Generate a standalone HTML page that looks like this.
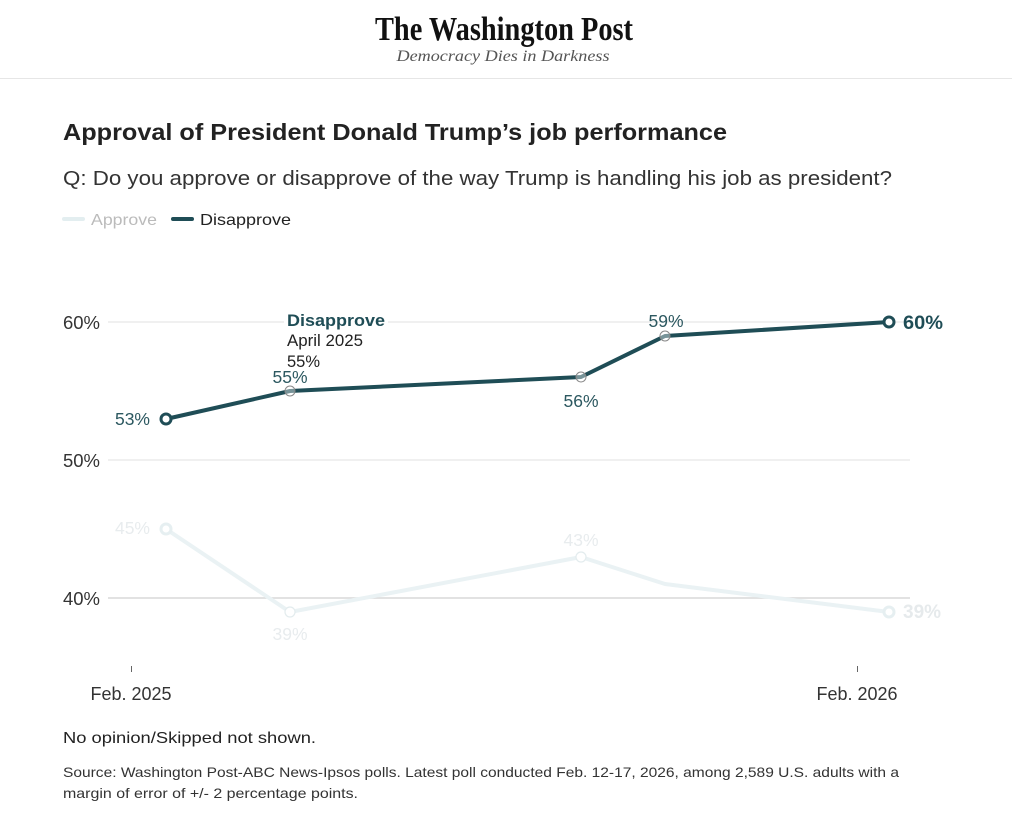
<!DOCTYPE html>
<html><head><meta charset="utf-8"><style>
html,body{margin:0;padding:0;background:#fff;}
svg{display:block;}
text{font-family:"Liberation Sans",Arial,sans-serif;}
</style></head><body>
<svg width="1012" height="822" viewBox="0 0 1012 822" xmlns="http://www.w3.org/2000/svg">
<rect width="1012" height="822" fill="#fff"/>
<!-- header -->
<text x="504" y="40" text-anchor="middle" font-weight="bold" font-size="34" fill="#111" textLength="258" lengthAdjust="spacingAndGlyphs" style="font-family:'Liberation Serif',serif">The Washington Post</text>
<text x="503" y="61" text-anchor="middle" font-style="italic" font-size="16" fill="#555" textLength="213" lengthAdjust="spacingAndGlyphs" style="font-family:'Liberation Serif',serif">Democracy Dies in Darkness</text>
<line x1="0" y1="78.5" x2="1012" y2="78.5" stroke="#e6e6e6" stroke-width="1"/>
<!-- title -->
<text x="63" y="140" font-weight="bold" font-size="23" fill="#222" textLength="664" lengthAdjust="spacingAndGlyphs">Approval of President Donald Trump’s job performance</text>
<text x="63" y="185" font-size="20" fill="#333" textLength="829" lengthAdjust="spacingAndGlyphs">Q: Do you approve or disapprove of the way Trump is handling his job as president?</text>
<!-- legend -->
<line x1="64" y1="219" x2="83" y2="219" stroke="#e3eef0" stroke-width="4" stroke-linecap="round"/>
<text x="91" y="225" font-size="16" fill="#bbb" textLength="66" lengthAdjust="spacingAndGlyphs">Approve</text>
<line x1="173" y1="219" x2="192" y2="219" stroke="#1f4d56" stroke-width="4" stroke-linecap="round"/>
<text x="200" y="225" font-size="16" fill="#222" textLength="91" lengthAdjust="spacingAndGlyphs">Disapprove</text>
<!-- gridlines -->
<line x1="108" y1="322" x2="910" y2="322" stroke="#e2e2e2" stroke-width="1"/>
<line x1="108" y1="460" x2="910" y2="460" stroke="#e2e2e2" stroke-width="1"/>
<line x1="108" y1="598" x2="910" y2="598" stroke="#d8d8d8" stroke-width="1.5"/>
<text x="100" y="329" text-anchor="end" font-size="18" fill="#333" textLength="37" lengthAdjust="spacingAndGlyphs">60%</text>
<text x="100" y="467" text-anchor="end" font-size="18" fill="#333" textLength="37" lengthAdjust="spacingAndGlyphs">50%</text>
<text x="100" y="605" text-anchor="end" font-size="18" fill="#333" textLength="37" lengthAdjust="spacingAndGlyphs">40%</text>
<!-- ticks -->
<line x1="131.5" y1="666" x2="131.5" y2="672" stroke="#666" stroke-width="1"/>
<line x1="857.5" y1="666" x2="857.5" y2="672" stroke="#666" stroke-width="1"/>
<text x="131" y="700" text-anchor="middle" font-size="18" fill="#333" textLength="81" lengthAdjust="spacingAndGlyphs">Feb. 2025</text>
<text x="857" y="700" text-anchor="middle" font-size="18" fill="#333" textLength="81" lengthAdjust="spacingAndGlyphs">Feb. 2026</text>
<!-- approve series -->
<polyline points="166,529 290,612 581,557 665,584 889,612" fill="none" stroke="#eaf2f4" stroke-width="4" stroke-linejoin="round"/>
<circle cx="290" cy="612" r="5" fill="#fff" stroke="#e3ecee" stroke-width="1.2"/>
<circle cx="581" cy="557" r="5" fill="#fff" stroke="#e3ecee" stroke-width="1.2"/>
<circle cx="166" cy="529" r="5" fill="#fff" stroke="#e6eff1" stroke-width="3"/>
<circle cx="889" cy="612" r="5" fill="#fff" stroke="#e6eff1" stroke-width="3"/>
<text x="150" y="534" text-anchor="end" font-size="17.5" fill="#e8ecee">45%</text>
<text x="290" y="640" text-anchor="middle" font-size="17.5" fill="#e8ecee">39%</text>
<text x="581" y="546" text-anchor="middle" font-size="17.5" fill="#e8ecee">43%</text>
<text x="903" y="618" font-size="19" font-weight="bold" fill="#e6eaec">39%</text>
<!-- disapprove series -->
<polyline points="166,419 290,391 581,377 665,336 889,322" fill="none" stroke="#1f4d56" stroke-width="4" stroke-linejoin="round"/>
<circle cx="290" cy="391" r="5" fill="#fff" fill-opacity="0.4" stroke="#888" stroke-width="1"/>
<circle cx="581" cy="377" r="5" fill="#fff" fill-opacity="0.4" stroke="#888" stroke-width="1"/>
<circle cx="665" cy="336" r="5" fill="#fff" fill-opacity="0.4" stroke="#888" stroke-width="1"/>
<circle cx="166" cy="419" r="5" fill="#fff" stroke="#1f4d56" stroke-width="3"/>
<circle cx="889" cy="322" r="5" fill="#fff" stroke="#1f4d56" stroke-width="3"/>
<text x="150" y="425" text-anchor="end" font-size="17.5" fill="#2c5860">53%</text>
<text x="290" y="383" text-anchor="middle" font-size="17.5" fill="#2c5860">55%</text>
<text x="581" y="407" text-anchor="middle" font-size="17.5" fill="#2c5860">56%</text>
<text x="666" y="327" text-anchor="middle" font-size="17.5" fill="#2c5860">59%</text>
<text x="903" y="329" font-size="19" font-weight="bold" fill="#1f4d56" textLength="40" lengthAdjust="spacingAndGlyphs">60%</text>
<!-- annotation -->
<rect x="284" y="310" width="104" height="20" fill="#fff"/>
<text x="287" y="326" font-size="17" font-weight="bold" fill="#1f4d56" textLength="98" lengthAdjust="spacingAndGlyphs">Disapprove</text>
<text x="287" y="346" font-size="16.5" fill="#222" textLength="76" lengthAdjust="spacingAndGlyphs">April 2025</text>
<text x="287" y="367" font-size="16.5" fill="#222">55%</text>
<!-- footer -->
<text x="63" y="743" font-size="16" fill="#222" textLength="253" lengthAdjust="spacingAndGlyphs">No opinion/Skipped not shown.</text>
<text x="63" y="777" font-size="14" fill="#333" textLength="836" lengthAdjust="spacingAndGlyphs">Source: Washington Post-ABC News-Ipsos polls. Latest poll conducted Feb. 12-17, 2026, among 2,589 U.S. adults with a</text>
<text x="63" y="798" font-size="14" fill="#333" textLength="295" lengthAdjust="spacingAndGlyphs">margin of error of +/- 2 percentage points.</text>
</svg>
</body></html>
